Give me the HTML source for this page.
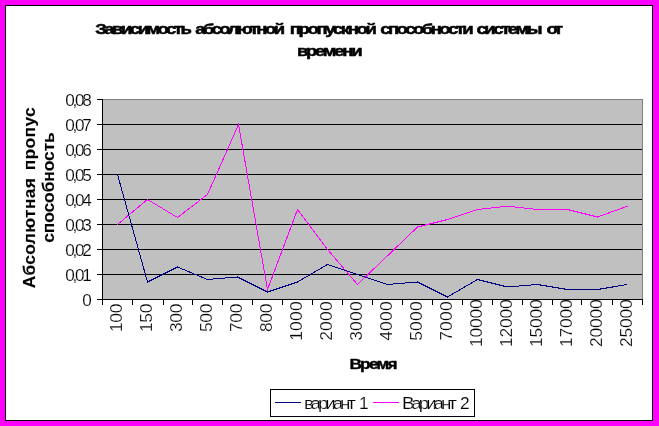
<!DOCTYPE html>
<html><head><meta charset="utf-8"><title>chart</title>
<style>
html,body{margin:0;padding:0;background:#ff00ff;width:659px;height:426px;overflow:hidden}
svg{display:block;position:absolute;left:0;top:0}
text{font-family:"Liberation Sans",sans-serif;fill:#000}
#tx{opacity:0.999}
.b{font-weight:bold}
</style></head><body>
<svg width="659" height="426" viewBox="0 0 659 426">
<rect x="0" y="0" width="659" height="426" fill="#ff00ff"/>
<rect x="5.5" y="5.5" width="647" height="415" fill="#ffffff" stroke="#000" stroke-width="1" shape-rendering="crispEdges"/>
<g shape-rendering="crispEdges">
<rect x="102" y="99" width="541" height="201" fill="#c0c0c0"/>
<rect x="102" y="99" width="541" height="1" fill="#808080"/>
<rect x="642" y="99" width="1" height="201" fill="#808080"/>

<rect x="102" y="274" width="540" height="1" fill="#000"/>
<rect x="102" y="249" width="540" height="1" fill="#000"/>
<rect x="102" y="224" width="540" height="1" fill="#000"/>
<rect x="102" y="199" width="540" height="1" fill="#000"/>
<rect x="102" y="174" width="540" height="1" fill="#000"/>
<rect x="102" y="149" width="540" height="1" fill="#000"/>
<rect x="102" y="124" width="540" height="1" fill="#000"/>
<rect x="102" y="99" width="1" height="201" fill="#000"/>
<rect x="102" y="299" width="541" height="1" fill="#000"/>
<rect x="97" y="299" width="5" height="1" fill="#000"/>
<rect x="97" y="274" width="5" height="1" fill="#000"/>
<rect x="97" y="249" width="5" height="1" fill="#000"/>
<rect x="97" y="224" width="5" height="1" fill="#000"/>
<rect x="97" y="199" width="5" height="1" fill="#000"/>
<rect x="97" y="174" width="5" height="1" fill="#000"/>
<rect x="97" y="149" width="5" height="1" fill="#000"/>
<rect x="97" y="124" width="5" height="1" fill="#000"/>
<rect x="97" y="99" width="5" height="1" fill="#000"/>
<rect x="102" y="299" width="1" height="6" fill="#000"/>
<rect x="132" y="299" width="1" height="6" fill="#000"/>
<rect x="163" y="299" width="1" height="6" fill="#000"/>
<rect x="192" y="299" width="1" height="6" fill="#000"/>
<rect x="222" y="299" width="1" height="6" fill="#000"/>
<rect x="252" y="299" width="1" height="6" fill="#000"/>
<rect x="282" y="299" width="1" height="6" fill="#000"/>
<rect x="312" y="299" width="1" height="6" fill="#000"/>
<rect x="342" y="299" width="1" height="6" fill="#000"/>
<rect x="372" y="299" width="1" height="6" fill="#000"/>
<rect x="402" y="299" width="1" height="6" fill="#000"/>
<rect x="432" y="299" width="1" height="6" fill="#000"/>
<rect x="462" y="299" width="1" height="6" fill="#000"/>
<rect x="492" y="299" width="1" height="6" fill="#000"/>
<rect x="522" y="299" width="1" height="6" fill="#000"/>
<rect x="552" y="299" width="1" height="6" fill="#000"/>
<rect x="581" y="299" width="1" height="6" fill="#000"/>
<rect x="612" y="299" width="1" height="6" fill="#000"/>
<rect x="642" y="299" width="1" height="6" fill="#000"/>
</g>
<polyline points="117.5,224.5 147.5,199.5 177.5,217.5 207.5,194.5 238.5,124.5 267.5,289.5 297.5,209.5 327.5,249.5 357.5,284.5 387.5,255.8 417.5,227.0 447.5,219.5 477.5,209.5 507.5,206.2 537.5,209.5 567.5,209.5 597.5,217.0 627.5,206.2" fill="none" stroke="#ff00ff" stroke-width="1" shape-rendering="crispEdges"/>
<polyline points="117.5,174.5 147.5,282.0 177.5,267.0 207.5,279.5 237.5,277.0 267.5,292.0 297.5,282.0 327.5,264.5 357.5,274.5 387.5,284.5 417.5,282.0 447.5,297.0 477.5,279.5 507.5,287.0 537.5,284.5 567.5,289.5 597.5,289.5 627.5,284.5" fill="none" stroke="#000080" stroke-width="1" shape-rendering="crispEdges"/>
<rect x="270.5" y="389.5" width="204" height="27" fill="#fff" stroke="#000" stroke-width="1" shape-rendering="crispEdges"/>
<rect x="275" y="402" width="26" height="1" fill="#000080" shape-rendering="crispEdges"/>
<rect x="373" y="402" width="26" height="1" fill="#ff00ff" shape-rendering="crispEdges"/>
<g id="tx"><text class="b" transform="translate(95.20,34.30) scale(1.22,1)" font-size="15.2" textLength="79.18" lengthAdjust="spacing" stroke="#000" stroke-width="0.5">Зависимость</text>
<text class="b" transform="translate(195.20,34.30) scale(1.22,1)" font-size="15.2" textLength="73.69" lengthAdjust="spacing" stroke="#000" stroke-width="0.5">абсолютной</text>
<text class="b" transform="translate(289.70,34.30) scale(1.22,1)" font-size="15.2" textLength="71.48" lengthAdjust="spacing" stroke="#000" stroke-width="0.5">пропускной</text>
<text class="b" transform="translate(380.20,34.30) scale(1.22,1)" font-size="15.2" textLength="76.56" lengthAdjust="spacing" stroke="#000" stroke-width="0.5">способности</text>
<text class="b" transform="translate(476.40,34.30) scale(1.22,1)" font-size="15.2" textLength="54.26" lengthAdjust="spacing" stroke="#000" stroke-width="0.5">системы</text>
<text class="b" transform="translate(546.40,34.30) scale(1.22,1)" font-size="15.2" textLength="13.69" lengthAdjust="spacing" stroke="#000" stroke-width="0.5">от</text>
<text class="b" transform="translate(296.90,56.30) scale(1.22,1)" font-size="15.2" textLength="53.85" lengthAdjust="spacing" stroke="#000" stroke-width="0.5">времени</text>
<text transform="translate(82.20,305.70) scale(1.1,1)" font-size="15.6" textLength="7.91" lengthAdjust="spacing" stroke="#fff" stroke-width="0.15">0</text>
<text transform="translate(65.30,280.70) scale(1.1,1)" font-size="15.6" textLength="24.00" lengthAdjust="spacing" stroke="#fff" stroke-width="0.15">0,01</text>
<text transform="translate(65.30,255.70) scale(1.1,1)" font-size="15.6" textLength="24.00" lengthAdjust="spacing" stroke="#fff" stroke-width="0.15">0,02</text>
<text transform="translate(65.30,230.70) scale(1.1,1)" font-size="15.6" textLength="24.00" lengthAdjust="spacing" stroke="#fff" stroke-width="0.15">0,03</text>
<text transform="translate(65.30,205.70) scale(1.1,1)" font-size="15.6" textLength="24.00" lengthAdjust="spacing" stroke="#fff" stroke-width="0.15">0,04</text>
<text transform="translate(65.30,180.70) scale(1.1,1)" font-size="15.6" textLength="24.00" lengthAdjust="spacing" stroke="#fff" stroke-width="0.15">0,05</text>
<text transform="translate(65.30,155.70) scale(1.1,1)" font-size="15.6" textLength="24.00" lengthAdjust="spacing" stroke="#fff" stroke-width="0.15">0,06</text>
<text transform="translate(65.30,130.70) scale(1.1,1)" font-size="15.6" textLength="24.00" lengthAdjust="spacing" stroke="#fff" stroke-width="0.15">0,07</text>
<text transform="translate(65.30,105.70) scale(1.1,1)" font-size="15.6" textLength="24.00" lengthAdjust="spacing" stroke="#fff" stroke-width="0.15">0,08</text>
<text transform="translate(121.50,332.00) rotate(-90) scale(1.0,1)" font-size="17.4" textLength="28.40" lengthAdjust="spacing" stroke="#fff" stroke-width="0.2">100</text>
<text transform="translate(151.50,332.00) rotate(-90) scale(1.0,1)" font-size="17.4" textLength="28.40" lengthAdjust="spacing" stroke="#fff" stroke-width="0.2">150</text>
<text transform="translate(181.50,332.00) rotate(-90) scale(1.0,1)" font-size="17.4" textLength="28.40" lengthAdjust="spacing" stroke="#fff" stroke-width="0.2">300</text>
<text transform="translate(211.50,332.00) rotate(-90) scale(1.0,1)" font-size="17.4" textLength="28.40" lengthAdjust="spacing" stroke="#fff" stroke-width="0.2">500</text>
<text transform="translate(241.50,332.00) rotate(-90) scale(1.0,1)" font-size="17.4" textLength="28.40" lengthAdjust="spacing" stroke="#fff" stroke-width="0.2">700</text>
<text transform="translate(271.50,332.00) rotate(-90) scale(1.0,1)" font-size="17.4" textLength="28.40" lengthAdjust="spacing" stroke="#fff" stroke-width="0.2">800</text>
<text transform="translate(302.00,340.80) rotate(-90) scale(1.0,1)" font-size="17.4" textLength="39.40" lengthAdjust="spacing" stroke="#fff" stroke-width="0.2">1000</text>
<text transform="translate(332.00,340.80) rotate(-90) scale(1.0,1)" font-size="17.4" textLength="39.40" lengthAdjust="spacing" stroke="#fff" stroke-width="0.2">2000</text>
<text transform="translate(362.00,340.80) rotate(-90) scale(1.0,1)" font-size="17.4" textLength="39.40" lengthAdjust="spacing" stroke="#fff" stroke-width="0.2">3000</text>
<text transform="translate(392.00,340.80) rotate(-90) scale(1.0,1)" font-size="17.4" textLength="39.40" lengthAdjust="spacing" stroke="#fff" stroke-width="0.2">4000</text>
<text transform="translate(422.00,340.80) rotate(-90) scale(1.0,1)" font-size="17.4" textLength="39.40" lengthAdjust="spacing" stroke="#fff" stroke-width="0.2">5000</text>
<text transform="translate(452.00,340.80) rotate(-90) scale(1.0,1)" font-size="17.4" textLength="39.40" lengthAdjust="spacing" stroke="#fff" stroke-width="0.2">7000</text>
<text transform="translate(482.20,347.00) rotate(-90) scale(1.0,1)" font-size="17.4" textLength="47.60" lengthAdjust="spacing" stroke="#fff" stroke-width="0.2">10000</text>
<text transform="translate(512.20,347.00) rotate(-90) scale(1.0,1)" font-size="17.4" textLength="47.60" lengthAdjust="spacing" stroke="#fff" stroke-width="0.2">12000</text>
<text transform="translate(542.20,347.00) rotate(-90) scale(1.0,1)" font-size="17.4" textLength="47.60" lengthAdjust="spacing" stroke="#fff" stroke-width="0.2">15000</text>
<text transform="translate(572.20,347.00) rotate(-90) scale(1.0,1)" font-size="17.4" textLength="47.60" lengthAdjust="spacing" stroke="#fff" stroke-width="0.2">17000</text>
<text transform="translate(602.20,347.00) rotate(-90) scale(1.0,1)" font-size="17.4" textLength="47.60" lengthAdjust="spacing" stroke="#fff" stroke-width="0.2">20000</text>
<text transform="translate(632.20,347.00) rotate(-90) scale(1.0,1)" font-size="17.4" textLength="47.60" lengthAdjust="spacing" stroke="#fff" stroke-width="0.2">25000</text>
<text class="b" transform="translate(349.40,368.90) scale(1.12,1)" font-size="15.4" textLength="43.04" lengthAdjust="spacing" stroke="#000" stroke-width="0.4">Время</text>
<text class="b" transform="translate(35.20,288.30) rotate(-90) scale(1.0,1)" font-size="17.4" textLength="110.30" lengthAdjust="spacing" stroke="#000" stroke-width="0.15">Абсолютная</text>
<text class="b" transform="translate(35.20,170.30) rotate(-90) scale(1.0,1)" font-size="17.4" textLength="63.00" lengthAdjust="spacing" stroke="#000" stroke-width="0.15">пропус</text>
<text class="b" transform="translate(54.40,242.80) rotate(-90) scale(1.0,1)" font-size="17.4" textLength="110.60" lengthAdjust="spacing" stroke="#000" stroke-width="0.15">способность</text>
<text transform="translate(303.90,408.70) scale(1.08,1)" font-size="17.4" textLength="48.15" lengthAdjust="spacing" stroke="#fff" stroke-width="0.15">вариант</text>
<text transform="translate(359.00,408.70) scale(1.0,1)" font-size="17.4" textLength="8.70" lengthAdjust="spacing" stroke="#fff" stroke-width="0.15">1</text>
<text transform="translate(401.90,408.70) scale(1.08,1)" font-size="17.4" textLength="50.93" lengthAdjust="spacing" stroke="#fff" stroke-width="0.15">Вариант</text>
<text transform="translate(460.00,408.70) scale(1.0,1)" font-size="17.4" textLength="8.80" lengthAdjust="spacing" stroke="#fff" stroke-width="0.15">2</text></g>
</svg></body></html>
